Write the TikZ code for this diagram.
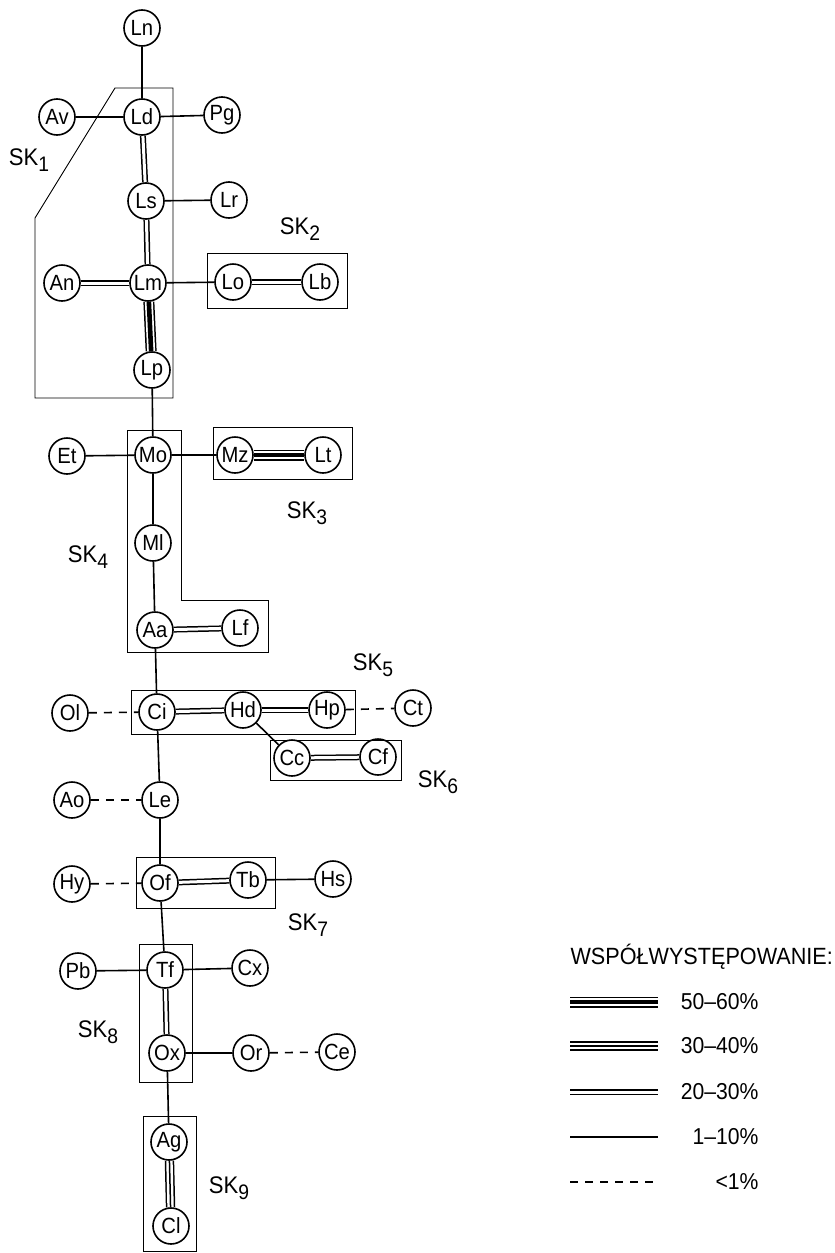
\documentclass[tikz,border=0pt]{standalone}
\usepackage{fontspec}
\setmainfont{Liberation Sans}
\newfontfamily\nar[FakeStretch=0.92]{Liberation Sans}
\usetikzlibrary{backgrounds}
\newcommand\skl[1]{\fontsize{24}{24}\selectfont SK\raisebox{-6pt}{\fontsize{21}{21}\selectfont #1}}
\begin{document}
\begin{tikzpicture}[x=1pt,y=-1pt,
  nd/.style={circle,draw,line width=1.6pt,fill=white,minimum size=36pt,inner sep=0pt,font=\nar\fontsize{22}{22}\selectfont},
  lone/.style={line width=1.6pt},
  ldash/.style={line width=1.6pt,dash pattern=on 8pt off 7pt},
  ltwo/.style={line width=6.0pt,postaction={draw=white,line width=3.0pt}},
  lthree/.style={line width=9.4pt,postaction={draw=white,line width=6.4pt},postaction={draw=black,line width=1.5pt}},
  lfive/.style={line width=11pt,postaction={draw=white,line width=8.0pt},postaction={draw=black,line width=4.6pt}},
  skbox/.style={line width=0.9pt},
  sklab/.style={font=\nar},
  leg/.style={anchor=east,font=\nar\fontsize{23}{23}\selectfont}]
\useasboundingbox (0,0) rectangle (835,1253);
% nodes
\node[nd] (Ln) at (142,28) {Ln};
\node[nd] (Ld) at (142,117) {Ld};
\node[nd] (Av) at (57,117) {Av};
\node[nd] (Pg) at (222,115) {Pg};
\node[nd] (Ls) at (146,201) {Ls};
\node[nd] (Lr) at (229,200) {Lr};
\node[nd] (Lm) at (148,283) {Lm};
\node[nd] (An) at (62,283) {An};
\node[nd] (Lo) at (233,282) {Lo};
\node[nd] (Lb) at (320,282) {Lb};
\node[nd] (Lp) at (152,370) {Lp};
\node[nd] (Mo) at (153,455) {Mo};
\node[nd] (Et) at (67,456) {Et};
\node[nd] (Mz) at (235,455) {Mz};
\node[nd] (Lt) at (323,455) {Lt};
\node[nd] (Ml) at (153,543) {Ml};
\node[nd] (Aa) at (155,630) {Aa};
\node[nd] (Lf) at (240,628) {Lf};
\node[nd] (Ci) at (157,712) {Ci};
\node[nd] (Ol) at (70,713) {Ol};
\node[nd] (Hd) at (243,710) {Hd};
\node[nd] (Hp) at (327,710) {Hp};
\node[nd] (Ct) at (413,708) {Ct};
\node[nd] (Cc) at (292,758) {Cc};
\node[nd] (Cf) at (378,757) {Cf};
\node[nd] (Le) at (160,800) {Le};
\node[nd] (Ao) at (72,800) {Ao};
\node[nd] (Of) at (160,883) {Of};
\node[nd] (Hy) at (72,884) {Hy};
\node[nd] (Tb) at (248,880) {Tb};
\node[nd] (Hs) at (333,879) {Hs};
\node[nd] (Tf) at (165,970) {Tf};
\node[nd] (Pb) at (78,971) {Pb};
\node[nd] (Cx) at (250,968) {Cx};
\node[nd] (Ox) at (167,1053) {Ox};
\node[nd] (Or) at (251,1053) {Or};
\node[nd] (Ce) at (337,1052) {Ce};
\node[nd] (Ag) at (169,1142) {Ag};
\node[nd] (Cl) at (171,1226) {Cl};
% connectors
\begin{scope}[on background layer]
\fill[white] (0,0) rectangle (835,1253);
\draw[lone] (Ln) -- (Ld);
\draw[lone] (Av) -- (Ld);
\draw[lone] (Ld) -- (Pg);
\draw[ltwo] (Ld) -- (Ls);
\draw[lone] (Ls) -- (Lr);
\draw[ltwo] (Ls) -- (Lm);
\draw[ltwo] (An) -- (Lm);
\draw[lone] (Lm) -- (Lo);
\draw[ltwo] (Lo) -- (Lb);
\draw[lfive] (Lm) -- (Lp);
\draw[lone] (Lp) -- (Mo);
\draw[lone] (Et) -- (Mo);
\draw[lone] (Mo) -- (Mz);
\draw[lfive] (Mz) -- (Lt);
\draw[lone] (Mo) -- (Ml);
\draw[lone] (Ml) -- (Aa);
\draw[ltwo] (Aa) -- (Lf);
\draw[lone] (Aa) -- (Ci);
\draw[ldash] (Ol) -- (Ci);
\draw[ltwo] (Ci) -- (Hd);
\draw[ltwo] (Hd) -- (Hp);
\draw[ldash] (Hp) -- (Ct);
\draw[lone] (Hd) -- (Cc);
\draw[ltwo] (Cc) -- (Cf);
\draw[lone] (Ci) -- (Le);
\draw[ldash] (Ao) -- (Le);
\draw[lone] (Le) -- (Of);
\draw[ldash] (Hy) -- (Of);
\draw[ltwo] (Of) -- (Tb);
\draw[lone] (Tb) -- (Hs);
\draw[lone] (Of) -- (Tf);
\draw[lone] (Pb) -- (Tf);
\draw[lone] (Tf) -- (Cx);
\draw[ltwo] (Tf) -- (Ox);
\draw[lone] (Ox) -- (Or);
\draw[ldash] (Or) -- (Ce);
\draw[lone] (Ox) -- (Ag);
\draw[lthree] (Ag) -- (Cl);
\end{scope}
% cluster boxes
\draw[skbox] (115,88) -- (173,88) -- (173,398) -- (35,398) -- (35,218) -- cycle;
\draw[skbox] (207,253) rectangle (347,308);
\draw[skbox] (213,427) rectangle (352,479);
\draw[skbox] (127,430) -- (181,430) -- (181,600) -- (268,600) -- (268,652) -- (127,652) -- cycle;
\draw[skbox] (131,690) rectangle (355,734);
\draw[skbox] (270,740) rectangle (401,780);
\draw[skbox] (136,857) rectangle (275,908);
\draw[skbox] (139,944) rectangle (192,1082);
\draw[skbox] (143,1116) rectangle (196,1251);
% cluster labels
\node[sklab] (s1) at (29,160) {\skl{1}};
\node[sklab] (s2) at (300,229) {\skl{2}};
\node[sklab] (s3) at (307,513) {\skl{3}};
\node[sklab] (s4) at (88,557) {\skl{4}};
\node[sklab] (s5) at (373,665) {\skl{5}};
\node[sklab] (s6) at (438,782) {\skl{6}};
\node[sklab] (s7) at (308,925) {\skl{7}};
\node[sklab] (s8) at (98,1032) {\skl{8}};
\node[sklab] (s9) at (229,1188) {\skl{9}};
% legend
\node[font=\nar\fontsize{23.5}{23.5}\selectfont,anchor=west] (title) at (567,957) {WSPÓŁWYSTĘPOWANIE:};
\coordinate (a1) at (570,1002); \coordinate (b1) at (658,1002);
\coordinate (a2) at (570,1046); \coordinate (b2) at (658,1046);
\coordinate (a3) at (570,1092); \coordinate (b3) at (658,1092);
\coordinate (a4) at (570,1137); \coordinate (b4) at (658,1137);
\coordinate (a5) at (570,1182); \coordinate (b5) at (658,1182);
\draw[lfive] (a1) -- (b1);
\draw[lthree] (a2) -- (b2);
\draw[ltwo] (a3) -- (b3);
\draw[lone] (a4) -- (b4);
\draw[ldash] (a5) -- (b5);
\node[leg] (t1) at (762,1002) {50–60\%};
\node[leg] (t2) at (762,1046) {30–40\%};
\node[leg] (t3) at (762,1092) {20–30\%};
\node[leg] (t4) at (762,1137) {1–10\%};
\node[leg] (t5) at (762,1182) {<1\%};
\end{tikzpicture}
\end{document}
